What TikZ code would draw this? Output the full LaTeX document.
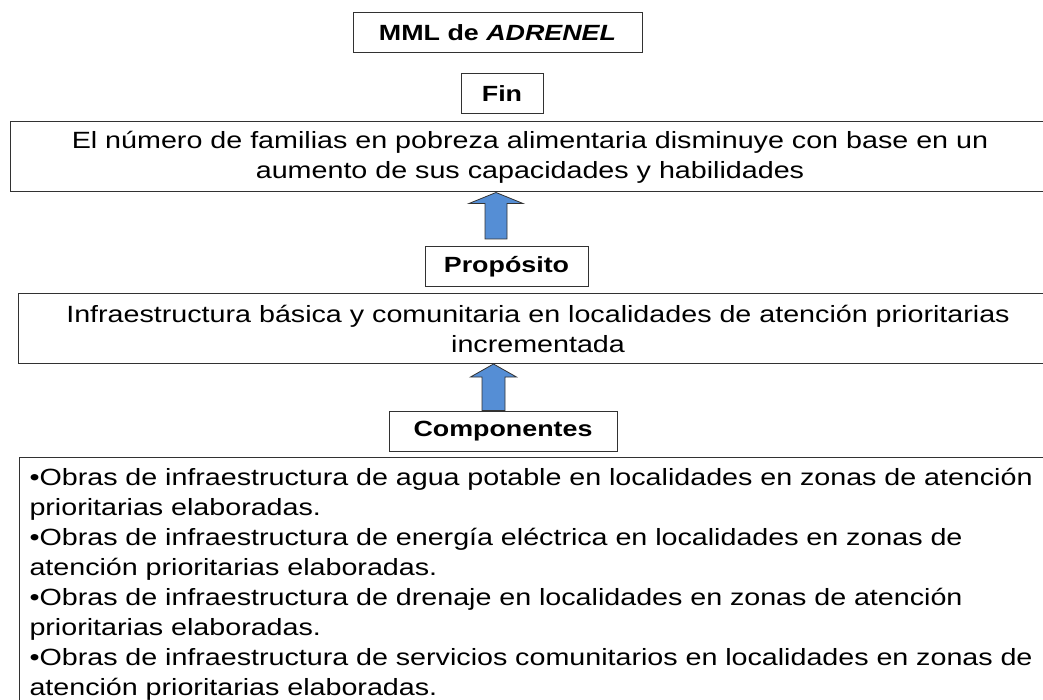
\documentclass[tikz,border=0pt]{standalone}
\usepackage{fontspec}
\setmainfont[FakeStretch=1.22]{Liberation Sans}
\usetikzlibrary{calc}
\definecolor{arrowblue}{RGB}{85,142,213}
\definecolor{boxline}{RGB}{50,50,50}
\begin{document}
\begin{tikzpicture}
		[x=1pt,y=-1pt,
		titlebox/.style={draw=boxline,line width=1pt,inner sep=0pt,minimum height=40pt,font=\bfseries\fontsize{22}{26}\selectfont},
		textbox/.style={draw=boxline,line width=1pt,inner sep=0pt,minimum height=70pt,minimum width=1040pt,align=center,font=\fontsize{23.5}{30}\selectfont},
		blockarrow/.style={draw=black!80,line width=0.8pt,fill=arrowblue}]
		\useasboundingbox (0,0) rectangle (1043,700);
		\node[titlebox,minimum width=289pt,name=mml] at (497.5,33) {MML de \textit{ADRENEL}};
		\node[titlebox,minimum width=82pt,name=fin] at (502,94) {Fin};
		\node[textbox,name=finbox] at (530,157)
		{El número de familias en pobreza alimentaria disminuye con base en un\\
		aumento de sus capacidades y habilidades};
		\node[titlebox,minimum width=163pt,name=propos] at (506.5,267) {Propósito};
		\node[textbox,name=propbox] at (538,328.5)
		{Infraestructura básica y comunitaria en localidades de atención prioritarias\\
		incrementada};
		\node[titlebox,minimum width=228pt,name=comp] at (503,431) {Componentes};
		\node[draw=boxline,line width=1pt,anchor=north west,inner xsep=10pt,inner ysep=11pt,
			text width=1040pt,align=left,
			font=\fontsize{23.5}{30}\selectfont,name=compbox] at (19,457)
		{•Obras de infraestructura de agua potable en localidades en zonas de atención\\
		prioritarias elaboradas.\\
		•Obras de infraestructura de energía eléctrica en localidades en zonas de\\
		atención prioritarias elaboradas.\\
		•Obras de infraestructura de drenaje en localidades en zonas de atención\\
		prioritarias elaboradas.\\
		•Obras de infraestructura de servicios comunitarios en localidades en zonas de\\
		atención prioritarias elaboradas.};
		% flechas de bloque
		\coordinate (tip1) at (finbox.south -| 496,0);
		\coordinate (base1) at (496,239);
		\coordinate (tip2) at (propbox.south -| 493.5,0);
		\coordinate (base2) at (comp.north -| 493.5,0);
		\draw[blockarrow] (tip1) -- ($(tip1)+(27,11)$) -- ($(tip1)+(11,11)$) -- ($(base1)+(11,0)$)
			-- ($(base1)+(-11,0)$) -- ($(tip1)+(-11,11)$) -- ($(tip1)+(-27,11)$) -- cycle;
		\draw[blockarrow] (tip2) -- ($(tip2)+(23,13)$) -- ($(tip2)+(11.5,13)$) -- ($(base2)+(11.5,0)$)
			-- ($(base2)+(-11.5,0)$) -- ($(tip2)+(-11.5,13)$) -- ($(tip2)+(-23,13)$) -- cycle;
\end{tikzpicture}
\end{document}
